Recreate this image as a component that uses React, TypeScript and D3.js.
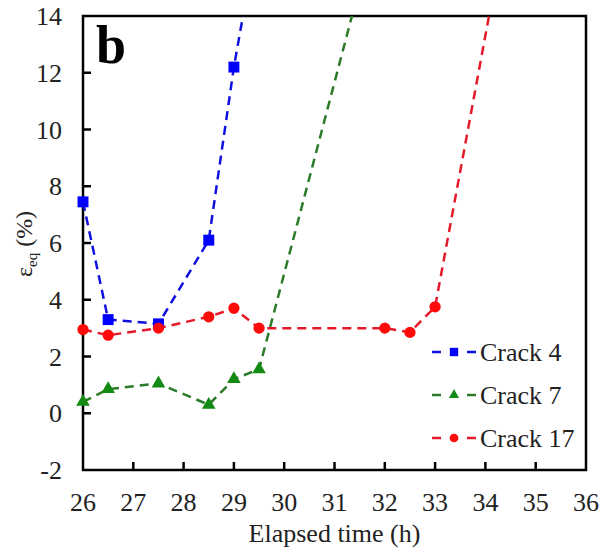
import React, { useEffect, useRef } from 'react';
import * as d3 from 'd3';

// elapsed time (h) and equivalent strain (%) per crack
const hours4 = [26, 26.5, 27.5, 28.5, 29, 29.5];
const crack4 = [7.45, 3.3, 3.15, 6.1, 12.2, 17.2];
const hours7 = [26, 26.5, 27.5, 28.5, 29, 29.5, 32];
const crack7 = [0.4, 0.85, 1.05, 0.3, 1.2, 1.55, 18.4];
const hours17 = [26, 26.5, 27.5, 28.5, 29, 29.5, 32, 32.5, 33, 34.5];
const crack17 = [2.95, 2.75, 3.0, 3.4, 3.7, 3.0, 3.0, 2.85, 3.75, 18.1];

const xTicks = [26, 27, 28, 29, 30, 31, 32, 33, 34, 35, 36];
const yTicks = [-2, 0, 2, 4, 6, 8, 10, 12, 14];
const seriesNames = ['Crack 4', 'Crack 7', 'Crack 17'];

const App = () => {
  const svgRef = useRef<SVGSVGElement>(null);

  useEffect(() => {
    const width = 605;
    const height = 558;
    const left = 83, right = 586, top = 16, bottom = 470;
    const font = 'Liberation Serif, Times New Roman, DejaVu Serif, serif';

    const svg = d3.select(svgRef.current);
    svg.selectAll('*').remove();
    svg.attr('width', width).attr('height', height);

    const x = d3.scaleLinear().domain([26, 36]).range([left, right]);
    const y = d3.scaleLinear().domain([-2, 14]).range([bottom, top]);

    svg.append('defs').append('clipPath').attr('id', 'plot-clip')
      .append('rect')
      .attr('x', left).attr('y', top)
      .attr('width', right - left).attr('height', bottom - top);

    const series = [
      { name: seriesNames[0], xs: hours4, ys: crack4, line: '#1010e0', fill: '#0000ff', shape: d3.symbolSquare },
      { name: seriesNames[1], xs: hours7, ys: crack7, line: '#2a7a2a', fill: '#138a13', shape: d3.symbolTriangle },
      { name: seriesNames[2], xs: hours17, ys: crack17, line: '#e41a2a', fill: '#ff0a0a', shape: d3.symbolCircle },
    ];

    const line = d3.line<[number, number]>()
      .x(d => x(d[0]))
      .y(d => y(d[1]));

    // frame
    svg.append('rect')
      .attr('x', left).attr('y', top)
      .attr('width', right - left).attr('height', bottom - top)
      .attr('fill', 'none')
      .attr('stroke', '#000')
      .attr('stroke-width', 2.5);

    const plot = svg.append('g').attr('clip-path', 'url(#plot-clip)');

    series.forEach(s => {
      const pts: [number, number][] = s.xs.map((h, i) => [h, s.ys[i]]);
      plot.append('path')
        .attr('d', line(pts))
        .attr('fill', 'none')
        .attr('stroke', s.line)
        .attr('stroke-width', 2.5)
        .attr('stroke-dasharray', '9,6');
    });

    const markers = svg.append('g');
    series.forEach(s => {
      const size = s.shape === d3.symbolCircle ? 100 : s.shape === d3.symbolTriangle ? 80 : 120;
      const sym = d3.symbol().type(s.shape).size(size);
      markers.selectAll(null)
        .data(s.xs.map((h, i) => [h, s.ys[i]]).filter(d => d[1] <= 14))
        .enter()
        .append('path')
        .attr('d', sym)
        .attr('transform', d => `translate(${x(d[0])},${y(d[1])})`)
        .attr('fill', s.fill);
    });

    // inward ticks
    svg.selectAll(null)
      .data(xTicks.slice(1, -1))
      .enter()
      .append('line')
      .attr('x1', d => x(d)).attr('x2', d => x(d))
      .attr('y1', bottom).attr('y2', bottom - 8)
      .attr('stroke', '#000').attr('stroke-width', 2.5);

    svg.selectAll(null)
      .data(yTicks.slice(1, -1))
      .enter()
      .append('line')
      .attr('x1', left).attr('x2', left + 8)
      .attr('y1', d => y(d)).attr('y2', d => y(d))
      .attr('stroke', '#000').attr('stroke-width', 2.5);

    // tick labels
    svg.selectAll(null)
      .data(xTicks)
      .enter()
      .append('text')
      .attr('x', d => x(d))
      .attr('y', 511)
      .attr('text-anchor', 'middle')
      .attr('font-family', font)
      .attr('font-size', 26)
      .attr('fill', '#222')
      .text(d => d);

    svg.selectAll(null)
      .data(yTicks)
      .enter()
      .append('text')
      .attr('x', 62)
      .attr('y', d => y(d) + 9)
      .attr('text-anchor', 'end')
      .attr('font-family', font)
      .attr('font-size', 26)
      .attr('fill', '#222')
      .text(d => d);

    // axis titles
    svg.append('text')
      .attr('x', (left + right) / 2)
      .attr('y', 542)
      .attr('text-anchor', 'middle')
      .attr('font-family', font)
      .attr('font-size', 26)
      .attr('fill', '#222')
      .text('Elapsed time (h)');

    const yTitle = svg.append('text')
      .attr('transform', 'translate(32,244) rotate(-90)')
      .attr('text-anchor', 'middle')
      .attr('font-family', font)
      .attr('font-size', 24)
      .attr('fill', '#222');
    yTitle.append('tspan').text('ε');
    yTitle.append('tspan').attr('dy', 5).attr('font-size', 15).text('eq');
    yTitle.append('tspan').attr('dy', -5).text(' (%)');

    // panel letter
    svg.append('text')
      .attr('x', 96)
      .attr('y', 63)
      .attr('font-family', font)
      .attr('font-size', 54)
      .attr('font-weight', 'bold')
      .attr('fill', '#000')
      .text('b');

    // legend
    const legend = svg.append('g');
    series.forEach((s, i) => {
      const cy = 352 + i * 43;
      const g = legend.append('g');
      g.append('line')
        .attr('x1', 432).attr('x2', 441)
        .attr('y1', cy).attr('y2', cy)
        .attr('stroke', s.line).attr('stroke-width', 2.5);
      g.append('line')
        .attr('x1', 467).attr('x2', 476)
        .attr('y1', cy).attr('y2', cy)
        .attr('stroke', s.line).attr('stroke-width', 2.5);
      const size = s.shape === d3.symbolCircle ? 60 : s.shape === d3.symbolTriangle ? 45 : 70;
      g.append('path')
        .attr('d', d3.symbol().type(s.shape).size(size)())
        .attr('transform', `translate(454,${cy})`)
        .attr('fill', s.fill);
      g.append('text')
        .attr('x', 480)
        .attr('y', cy + 9)
        .attr('font-family', font)
        .attr('font-size', 26)
        .attr('fill', '#222')
        .text(s.name);
    });
  }, []);

  return (
    <svg ref={svgRef} style={{ position: 'absolute', left: 0, top: 0, background: '#fff' }}></svg>
  );
};

export default App;
